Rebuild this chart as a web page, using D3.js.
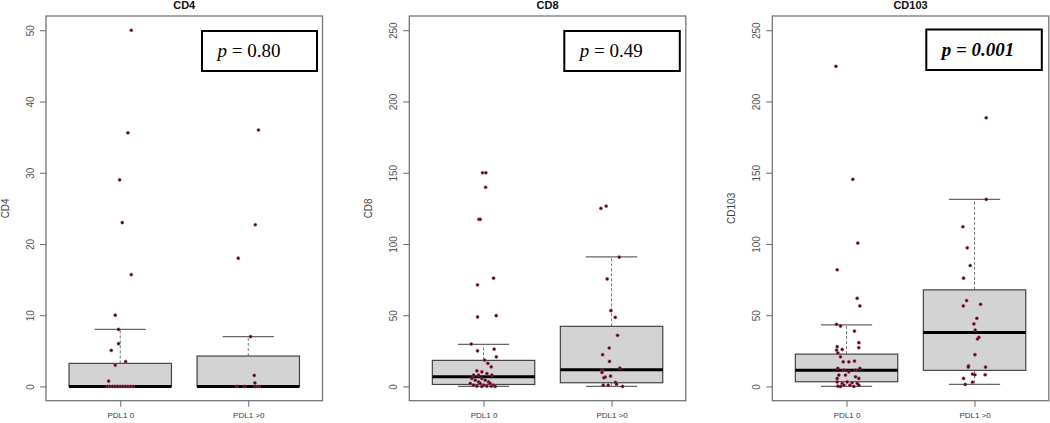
<!DOCTYPE html>
<html>
<head>
<meta charset="utf-8">
<script src="https://cdn.jsdelivr.net/npm/d3@7/dist/d3.min.js"></script>
<style>
  body { margin: 0; background: #fff; }
  svg { display: block; font-family: Arial, "Liberation Sans", sans-serif; }
</style>
</head>
<body>
<svg id="chart" width="1050" height="423"></svg>
<script>
//Group names on the x axis
let groups = ["PDL1 0", "PDL1 >0"];
//Panel titles and p values
let markers = ["CD4", "CD8", "CD103"];
let pvalues = ["0.80", "0.49", "0.001"];
let pBold = [false, false, true];
//Y axis upper limit and ticks of every panel
let yMax = [50, 250, 250];
let yTicks = [[0, 10, 20, 30, 40, 50], [0, 50, 100, 150, 200, 250], [0, 50, 100, 150, 200, 250]];

//Box stats: [low whisker, Q1, median, Q3, high whisker]
let cd4Stats = [[0, 0, 0, 3.24, 8.0], [0, 0, 0, 4.27, 7.0]];
let cd8Stats = [[0, 1.4, 6.8, 18.3, 29.5], [0, 2.6, 11.7, 42.2, 91]];
let cd103Stats = [[0, 3.3, 11.3, 22.7, 43.2], [1.4, 11.3, 37.8, 67.8, 131.3]];

//Jittered points: x is the jittered group position, y the value
let cd4G1x = [1.086, 1.06, 0.995, 1.016, 1.086, 0.961, 0.987, 0.987, 0.93, 1.042, 0.961, 0.909,
              0.9, 0.92, 0.94, 0.96, 0.98, 1.0, 1.02, 1.04, 1.06, 1.08, 1.1];
let cd4G1y = [50, 35.6, 29.0, 23.0, 15.7, 10.0, 8.0, 6.0, 5.07, 3.5, 3.0, 0.75,
              0, 0, 0, 0, 0, 0, 0, 0, 0, 0, 0];
let cd4G2x = [2.08, 2.055, 1.922, 2.018, 2.047, 2.052, 1.91, 1.97, 2.055, 2.086];
let cd4G2y = [36.0, 22.7, 18.0, 7.0, 1.55, 0.5, 0, 0, 0, 0];

let cd8G1x = [0.992, 1.018, 1.016, 0.964, 0.974, 1.078, 0.953, 1.099, 0.953,
              0.904, 0.953, 1.083, 1.10, 1.008, 1.034, 1.06, 0.948,
              0.987, 1.026, 0.922, 0.961, 1.065, 0.909, 0.987, 0.935, 1.013,
              0.961, 1.039, 0.896, 0.974, 1.052, 0.922, 1.0, 1.078, 0.948, 1.026, 1.06, 0.987, 1.091];
let cd8G1y = [150, 150, 139.8, 117.3, 117.3, 76, 71.3, 49.7, 48.8,
              29.8, 25, 26.2, 20.8, 18.5, 16.2, 13.8, 11,
              10.3, 9.1, 8.0, 8.0, 8.0, 5.6, 5.6, 4.4, 4.4,
              3.2, 3.2, 2.1, 2.1, 2.1, 0.9, 0.9, 0.9, 0.2, 0.2, 0.2, 0, 0];
let cd8G2x = [1.917, 1.958, 2.06, 1.966, 1.995, 2.029, 2.047, 1.982, 1.93, 1.984, 2.065,
              1.927, 1.925, 1.992, 1.951, 1.94, 2.031, 2.039, 1.935, 1.974, 2.086];
let cd8G2y = [125, 126.6, 90.8, 75.5, 53.2, 48.5, 35.9, 27, 22.3, 17.6, 12.9,
              11.3, 9.8, 7.3, 6.6, 6.1, 2.8, 1.6, 0.9, 0.9, 0];

let cd103G1x = [0.917, 1.049, 1.088, 0.927, 1.083, 1.104,
                0.922, 0.953, 1.062, 1.096, 1.096, 0.927, 0.966, 0.922, 0.932, 0.953,
                0.974, 1.018, 1.062, 0.932, 0.979, 1.018, 1.07, 1.104,
                0.94, 0.992, 1.07, 1.096, 0.927, 0.927, 0.966, 1.005, 1.044, 1.083,
                0.932, 0.979, 1.026, 1.096, 0.953, 1.057];
let cd103G1y = [224.7, 145.4, 100.6, 81.9, 61.9, 56.5,
                43.6, 42.4, 38.9, 30.7, 27.2, 27.9, 26, 25.5, 23.6, 20.8,
                17.3, 17.3, 17.8, 12.7, 11.5, 10.3, 11.5, 12.7,
                8, 8, 6.8, 5.6, 5.6, 3.2, 2.1, 3.2, 2.6, 2.1,
                0.2, 0.9, 0.9, 0.9, 0, 0];
let cd103G2x = [2.091, 2.091, 1.909, 1.943, 1.966, 1.914, 1.938, 1.912, 2.047, 2.018, 1.995,
                2.005, 2.034, 2.023, 2.003, 1.953, 1.951, 2.086, 1.984, 2.003, 2.083, 1.914,
                1.984, 1.927];
let cd103G2y = [188.6, 131.3, 112.1, 97.3, 84.9, 76, 60.3, 56.5, 57.7, 47.8, 43.9,
                39.6, 34.5, 33.3, 22.3, 14.5, 13.6, 13.6, 8.7, 8.2, 8.2, 5.6,
                3.0, 1.4];

//Bundle the arrays per panel
let panels = [
  {stats: cd4Stats, pts: [[cd4G1x, cd4G1y], [cd4G2x, cd4G2y]]},
  {stats: cd8Stats, pts: [[cd8G1x, cd8G1y], [cd8G2x, cd8G2y]]},
  {stats: cd103Stats, pts: [[cd103G1x, cd103G1y], [cd103G2x, cd103G2y]]}
];

//Layout of the three plot regions
let svg = d3.select("#chart");
let plotLeft = [46, 409.3, 772.3],
    plotW = 276.5,
    plotTop = 16,
    plotBottom = 400.7;
//p value boxes (pixel layout)
let pBox = [{x: 202, y: 31, w: 115, h: 40}, {x: 564.3, y: 31, w: 115.5, h: 40}, {x: 926.3, y: 29.5, w: 115.5, h: 40.5}];

panels.forEach(function(p, k){
  //R style limits: extend the range by 4% on each side
  let x = d3.scaleLinear().domain([0.42, 2.58]).range([plotLeft[k], plotLeft[k] + plotW]);
  let pad = yMax[k] * 0.04;
  let y = d3.scaleLinear().domain([-pad, yMax[k] + pad]).range([plotBottom, plotTop]);
  let g = svg.append("g");

  //Title
  g.append("text")
    .attr("x", (x.range()[0] + x.range()[1]) / 2)
    .attr("y", 9)
    .attr("text-anchor", "middle")
    .attr("font-weight", "bold")
    .attr("font-size", 11)
    .attr("fill", "#111")
    .text(markers[k]);

  //Y axis title
  g.append("text")
    .attr("transform", "translate(" + (plotLeft[k] - 37.5) + "," + ((plotTop + plotBottom) / 2) + ") rotate(-90)")
    .attr("text-anchor", "middle")
    .attr("font-size", 10)
    .attr("fill", "#444")
    .text(markers[k]);

  //Y axis with rotated labels
  let yAxis = g.append("g")
    .attr("transform", "translate(" + plotLeft[k] + ",0)")
    .call(d3.axisLeft(y).tickValues(yTicks[k]).tickSize(6).tickSizeOuter(0));
  yAxis.select(".domain").remove();
  yAxis.selectAll(".tick line").attr("stroke", "#666");
  yAxis.selectAll(".tick text")
    .attr("x", 0).attr("dy", 0)
    .attr("transform", "translate(-12,0) rotate(-90)")
    .attr("text-anchor", "middle")
    .attr("font-size", 10)
    .attr("font-family", "Arial, 'Liberation Sans', sans-serif")
    .attr("fill", "#555");

  //X axis
  let xAxis = g.append("g")
    .attr("transform", "translate(0," + plotBottom + ")")
    .call(d3.axisBottom(x).tickValues([1, 2]).tickFormat(function(d){ return groups[d - 1]; }).tickSize(6).tickSizeOuter(0));
  xAxis.select(".domain").remove();
  xAxis.selectAll(".tick line").attr("stroke", "#666");
  xAxis.selectAll(".tick text")
    .attr("y", 15)
    .attr("dy", "0.32em")
    .attr("font-size", 8)
    .attr("font-family", "Arial, 'Liberation Sans', sans-serif")
    .attr("fill", "#3a3550");

  //Boxes, whiskers and medians
  p.stats.forEach(function(s, i){
    let cx = i + 1;
    //Dashed whiskers
    g.append("line")
      .attr("x1", x(cx)).attr("x2", x(cx))
      .attr("y1", y(s[3])).attr("y2", y(s[4]))
      .attr("stroke", "#777").attr("stroke-dasharray", "3,2");
    g.append("line")
      .attr("x1", x(cx)).attr("x2", x(cx))
      .attr("y1", y(s[1])).attr("y2", y(s[0]))
      .attr("stroke", "#777").attr("stroke-dasharray", "3,2");
    //Whisker caps
    [s[0], s[4]].forEach(function(v){
      g.append("line")
        .attr("x1", x(cx - 0.2)).attr("x2", x(cx + 0.2))
        .attr("y1", y(v)).attr("y2", y(v))
        .attr("stroke", "#666").attr("stroke-width", 1.2);
    });
    //Box
    g.append("rect")
      .attr("x", x(cx - 0.4))
      .attr("y", y(s[3]))
      .attr("width", x(cx + 0.4) - x(cx - 0.4))
      .attr("height", y(s[1]) - y(s[3]))
      .attr("fill", "#d3d3d3")
      .attr("stroke", "#444")
      .attr("stroke-width", 1.2);
    //Median
    g.append("line")
      .attr("x1", x(cx - 0.4)).attr("x2", x(cx + 0.4))
      .attr("y1", y(s[2])).attr("y2", y(s[2]))
      .attr("stroke", "#000").attr("stroke-width", 3);
  });

  //Jittered points
  p.pts.forEach(function(pt){
    g.selectAll(null)
      .data(d3.zip(pt[0], pt[1]))
      .enter().append("circle")
      .attr("cx", function(d){ return x(d[0]); })
      .attr("cy", function(d){ return y(d[1]); })
      .attr("r", 1.6)
      .attr("fill", "#45041f")
      .attr("stroke", "#b8527c")
      .attr("stroke-width", 0.5);
  });

  //Plot frame
  g.append("rect")
    .attr("x", plotLeft[k]).attr("y", plotTop)
    .attr("width", plotW).attr("height", plotBottom - plotTop)
    .attr("fill", "none")
    .attr("stroke", "#777")
    .attr("stroke-width", 1.3);

  //p value box
  let b = pBox[k];
  g.append("rect")
    .attr("x", b.x).attr("y", b.y).attr("width", b.w).attr("height", b.h)
    .attr("fill", "#fff").attr("stroke", "#000").attr("stroke-width", 2);
  let t = g.append("text")
    .attr("x", b.x + 15.5)
    .attr("y", b.y + 26)
    .attr("font-family", "'Liberation Serif', 'Times New Roman', serif")
    .attr("font-size", 19)
    .attr("fill", "#000")
    .attr("font-weight", pBold[k] ? "bold" : "normal");
  t.append("tspan").attr("font-style", "italic").text("p");
  t.append("tspan").attr("font-style", pBold[k] ? "italic" : "normal").text(" = " + pvalues[k]);
});
</script>
</body>
</html>
